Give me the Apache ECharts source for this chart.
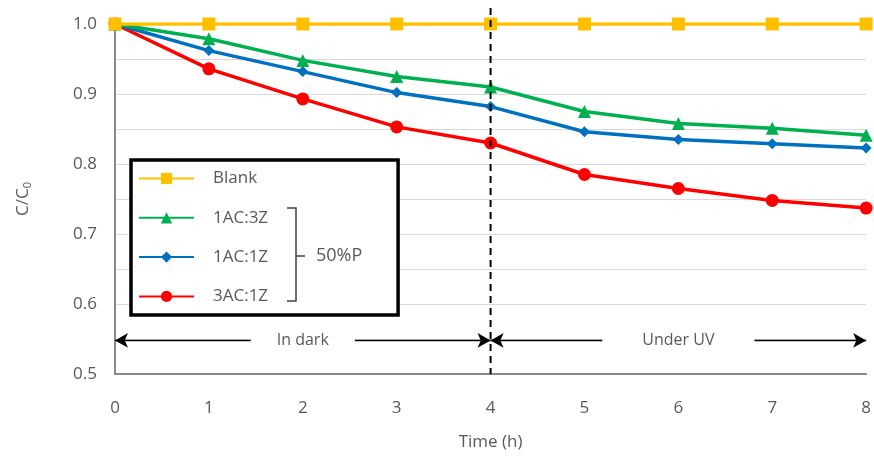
<!DOCTYPE html>
<html><head><meta charset="utf-8">
<script src="https://cdn.jsdelivr.net/npm/echarts@6/dist/echarts.min.js"></script>
<style>html,body{margin:0;padding:0;background:#fff}#c{width:874px;height:456px}</style>
</head><body><div id="c"></div>
<script>
const times = [0, 1, 2, 3, 4, 5, 6, 7, 8];
const blank = [1.0, 1.0, 1.0, 1.0, 1.0, 1.0, 1.0, 1.0, 1.0];
const ac1z3 = [1.0, 0.979, 0.948, 0.925, 0.910, 0.875, 0.858, 0.851, 0.841];
const ac1z1 = [1.0, 0.962, 0.932, 0.902, 0.882, 0.846, 0.835, 0.829, 0.823];
const ac3z1 = [1.0, 0.936, 0.893, 0.853, 0.830, 0.785, 0.765, 0.748, 0.737];
const seriesNames = ['Blank', '1AC:3Z', '1AC:1Z', '3AC:1Z'];
const phaseLabels = ['In dark', 'Under UV'];
const phaseBoundary = 4;
const arrowLevel = 0.548;

const FONT = 'Open Sans';
const pairs = arr => times.map((t, i) => [t, arr[i]]);
const colors = ['#FFC000', '#00B050', '#0070C0', '#FF0000'];
const symbols = ['rect', 'triangle', 'diamond', 'circle'];
const sizes = [13, 13, 11, 13];
const vals = [blank, ac1z3, ac1z1, ac3z1];

const chart = echarts.init(document.getElementById('c'));
const series = vals.map((v, i) => ({
  name: seriesNames[i], type: 'line', data: pairs(v),
  symbol: symbols[i], symbolSize: sizes[i],
  lineStyle: { color: colors[i], width: 3.5 },
  itemStyle: { color: colors[i] },
  z: 3 + (3 - i), animation: false
}));
// phase arrows
const arrowLine = (x0, x1, label, pad) => ([
  { coord: [x0, arrowLevel], symbol: 'arrow' },
  { coord: [x1, arrowLevel], symbol: 'arrow', label: { show: true, formatter: label, padding: [3, pad, 3, pad] } }
]);
series.push({
  type: 'line', data: [], silent: true, animation: false,
  markLine: {
    silent: true, animation: false, symbolSize: [11, 13],
    lineStyle: { color: '#000', width: 1.3, type: 'solid' },
    label: { position: 'insideMiddle', color: '#595959', fontFamily: FONT, fontSize: 16,
      backgroundColor: '#fff', distance: 0 },
    data: [arrowLine(times[0], phaseBoundary, phaseLabels[0], 26),
           arrowLine(phaseBoundary, times[times.length - 1], phaseLabels[1], 40)]
  }
});

chart.setOption({
  animation: false,
  grid: { left: 115, right: 6, top: 24, bottom: 82 },
  xAxis: {
    type: 'value', min: 0, max: 8, interval: 1,
    name: 'Time (h)', nameLocation: 'middle', nameGap: 60,
    nameTextStyle: { color: '#595959', fontFamily: FONT, fontSize: 17 },
    axisLine: { show: true, lineStyle: { color: '#898989', width: 2 } },
    axisTick: { show: false },
    splitLine: { show: false },
    axisLabel: { color: '#595959', fontFamily: FONT, fontSize: 17, margin: 26 }
  },
  yAxis: {
    type: 'value', min: 0.5, max: 1.0, interval: 0.05,
    name: 'C/C{sub|0}', nameLocation: 'middle', nameGap: 82, nameRotate: 90,
    nameTextStyle: { color: '#595959', fontFamily: FONT, fontSize: 17,
      rich: { sub: { fontSize: 11, verticalAlign: 'bottom', padding: [8, 0, 0, 0], color: '#595959', fontFamily: FONT } } },
    axisLine: { show: true, lineStyle: { color: '#898989', width: 2 } },
    axisTick: { show: false },
    splitLine: { show: true, lineStyle: { color: '#D9D9D9', width: 1.2 } },
    axisLabel: { color: '#595959', fontFamily: FONT, fontSize: 17, margin: 18,
      formatter: v => (Math.round(v * 100) % 10 === 0 ? v.toFixed(1) : '') }
  },
  legend: {
    data: seriesNames, orient: 'vertical', left: 131, top: 160,
    itemWidth: 55, itemHeight: 14, itemGap: 22.3,
    padding: [10, 130, 10, 7],
    borderColor: '#000', borderWidth: 3.5, backgroundColor: '#fff',
    textStyle: { color: '#595959', fontFamily: FONT, fontSize: 17, padding: [0, 0, 0, 14] }
  },
  series: series
});

// vertical dashed boundary line and 50%P brace
const pTop = chart.convertToPixel({ gridIndex: 0 }, [phaseBoundary, 1.0]);
const pBot = chart.convertToPixel({ gridIndex: 0 }, [phaseBoundary, 0.5]);
chart.setOption({
  graphic: [
    { type: 'line', z: 10, shape: { x1: pTop[0], y1: pTop[1] - 16, x2: pBot[0], y2: pBot[1] },
      style: { stroke: '#000', lineWidth: 2, lineDash: [7, 5] } },
    { type: 'polyline', z: 20, shape: { points: [[287, 208], [296, 208], [296, 301], [287, 301]] },
      style: { stroke: '#404040', lineWidth: 1.5, fill: null } },
    { type: 'line', z: 20, shape: { x1: 296, y1: 256, x2: 305, y2: 256 },
      style: { stroke: '#404040', lineWidth: 1.5 } },
    { type: 'text', z: 20, x: 316, y: 256, style: { text: '50%P', fill: '#595959',
      font: '18px "' + FONT + '"', verticalAlign: 'middle' } }
  ]
});
</script></body></html>
